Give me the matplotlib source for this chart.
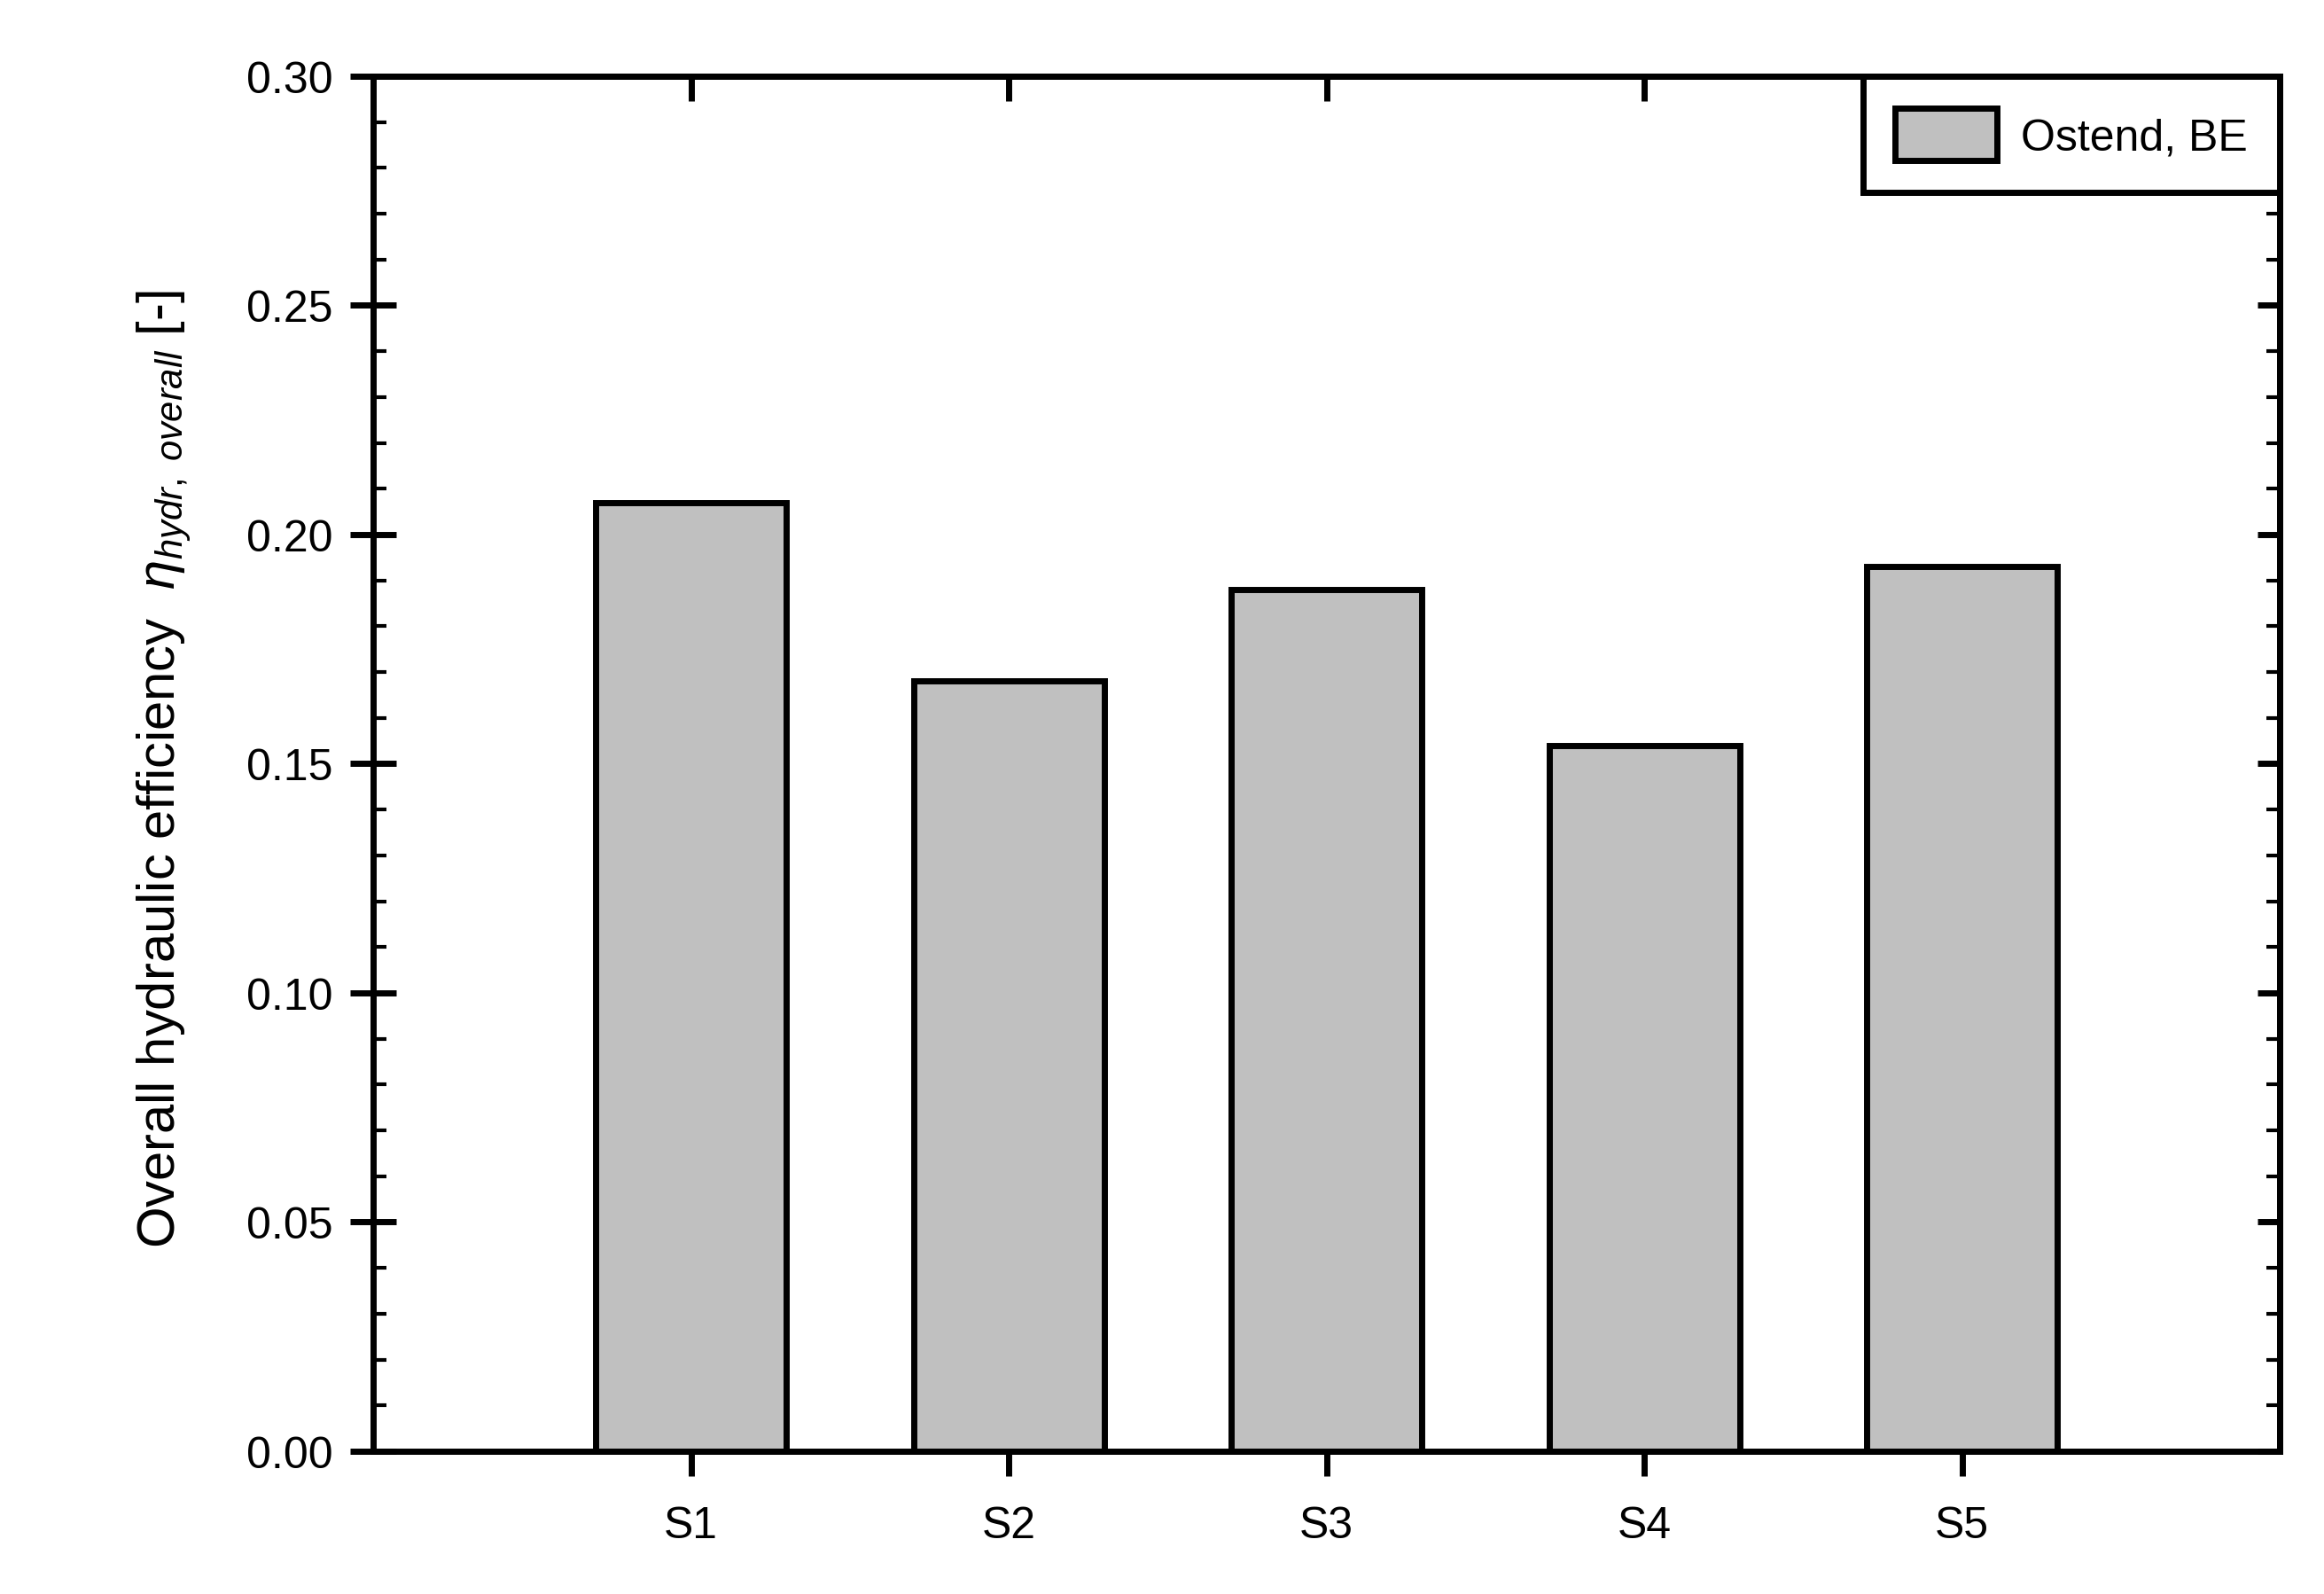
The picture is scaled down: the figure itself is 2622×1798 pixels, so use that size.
import numpy as np
import matplotlib
matplotlib.use("Agg")
import matplotlib.pyplot as plt
from matplotlib.ticker import MultipleLocator, FormatStrFormatter
from matplotlib.patches import Rectangle
from matplotlib.legend_handler import HandlerPatch

plt.rcParams['font.family'] = ['Liberation Sans', 'DejaVu Sans']
plt.rcParams['mathtext.fontset'] = 'custom'
plt.rcParams['mathtext.rm'] = 'Liberation Sans'
plt.rcParams['mathtext.it'] = 'Liberation Sans:italic'

# ---- data ----
categories = ['S1', 'S2', 'S3', 'S4', 'S5']
values = [0.207, 0.168, 0.188, 0.154, 0.193]
series_label = 'Ostend, BE'
y_ticks = [0.00, 0.05, 0.10, 0.15, 0.20, 0.25, 0.30]

LW = 5.0
FS = 36

fig = plt.figure(figsize=(26.22, 17.99), dpi=100)
ax = fig.add_axes([0.1606, 0.0895, 0.8204, 0.8622])

x = np.arange(1, len(categories) + 1)
ax.bar(x, values, width=0.6, color='#c0c0c0', edgecolor='black',
       linewidth=LW, label=series_label, zorder=2)

ax.set_xlim(0, 6)
ax.set_ylim(0, 0.30)
ax.set_xticks(x)
ax.set_xticklabels(categories)
ax.set_yticks(y_ticks)
ax.yaxis.set_major_formatter(FormatStrFormatter('%.2f'))
ax.yaxis.set_minor_locator(MultipleLocator(0.01))

for s in ax.spines.values():
    s.set_linewidth(LW)
    s.set_zorder(3)

ax.tick_params(axis='x', which='major', direction='out', length=20, width=LW,
               labelsize=FS, pad=24, top=False)
ax.tick_params(axis='y', which='major', direction='inout', length=38, width=LW,
               labelsize=FS, pad=14, right=False)
ax.tick_params(axis='y', which='minor', direction='in', length=11, width=3, right=False)

# top axis ticks (inward)
secx = ax.secondary_xaxis('top')
secx.set_xticks(x)
secx.set_xticklabels([])
secx.tick_params(axis='x', direction='in', length=20, width=LW)
secx.spines['top'].set_linewidth(LW)

# right axis ticks (inward)
secy = ax.secondary_yaxis('right')
secy.set_yticks(y_ticks)
secy.set_yticklabels([])
secy.yaxis.set_minor_locator(MultipleLocator(0.01))
secy.tick_params(axis='y', which='major', direction='in', length=18, width=LW)
secy.tick_params(axis='y', which='minor', direction='in', length=11, width=3)
secy.tick_params(axis='y', which='minor', labelright=False)
secy.spines['right'].set_linewidth(LW)

ax.set_ylabel(r'Overall hydraulic efficiency  $\eta_{hydr,\ overall}$ [-]',
              fontsize=43, ha='left', va='baseline')
ax.yaxis.set_label_coords(-0.104, 0.148)


def small_rect(legend, orig_handle, xdescent, ydescent, width, height, fontsize):
    h = 0.65 * fontsize
    return Rectangle((-xdescent, -ydescent + (height - h) / 2 - 0.05 * fontsize), width, h)


leg = ax.legend(loc='upper right', borderaxespad=0, fancybox=False, framealpha=1,
                edgecolor='black', fontsize=FS, handlelength=2.3, handleheight=1.45,
                handletextpad=0.55, borderpad=0.72,
                handler_map={Rectangle: HandlerPatch(patch_func=small_rect)})
leg.get_frame().set_linewidth(LW)
leg.set_zorder(5)

fig.savefig('out.png', dpi=100)
